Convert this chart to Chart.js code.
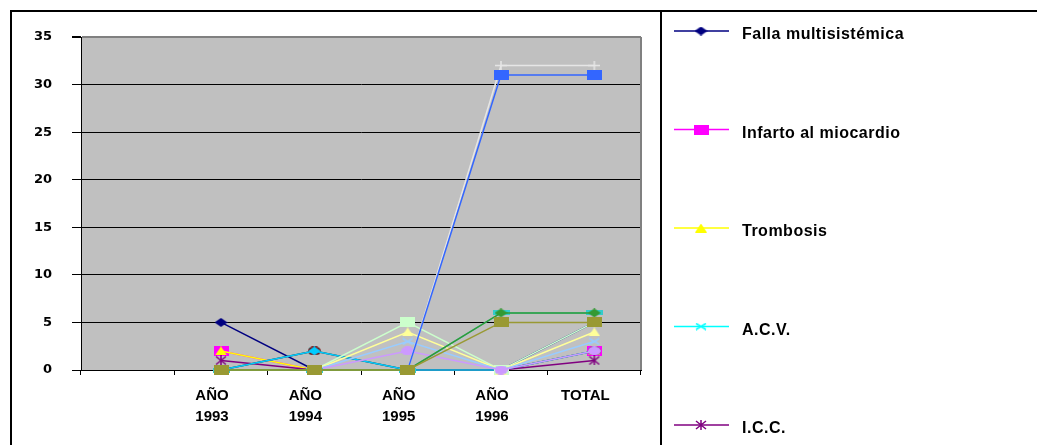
<!DOCTYPE html>
<html>
<head>
<meta charset="utf-8">
<script src="https://cdn.jsdelivr.net/npm/chart.js@4.4.1/dist/chart.umd.min.js"></script>
<style>
  html, body { margin: 0; padding: 0; background: #fff; }
  #wrap { width: 1037px; height: 445px; }
</style>
</head>
<body>
<div id="wrap"><canvas id="chart" width="1037" height="445"></canvas></div>
<script>
// categories (first slot is empty, as in the original sheet)
const categories = ['', ['AÑO', '1993'], ['AÑO', '1994'], ['AÑO', '1995'], ['AÑO', '1996'], 'TOTAL'];
const yTicks = [0, 5, 10, 15, 20, 25, 30, 35];

// series values
const fallaMulti = [null, 5, 0, 0, 0, 5];
const infarto    = [null, 2, 0, 0, 0, 2];
const trombosis  = [null, 2, 0, 0, 0, 2];
const acv        = [null, 0, 2, 0, 0, 2];
const icc        = [null, 1, 0, 0, 0, 1];
const serie6     = [null, 0, 2, 0, 0, 2];
const serie9     = [null, 0, 2, 0, 0, 2];
const serie11    = [null, 0, 0, 5, 0, 5];
const serie12    = [null, 0, 0, 4, 0, 4];
const serie13    = [null, 0, 0, 3, 0, 3];
const serie15    = [null, 0, 0, 2, 0, 2];
const serie21    = [null, 0, 0, 0, 32, 32];
const serie17    = [null, 0, 0, 0, 31, 31];
const serie18    = [null, 0, 0, 0, 6, 6];
const serie19    = [null, 0, 0, 0, 6, 6];
const serie20    = [null, 0, 0, 0, 5, 5];

// only the first five names fit in the legend box
const legendNames = ['Falla multisistémica', 'Infarto al miocardio', 'Trombosis', 'A.C.V.', 'I.C.C.'];

const seriesValues = [fallaMulti, infarto, trombosis, acv, icc, serie6, serie9, serie11,
                      serie12, serie13, serie15, serie21, serie17, serie18, serie19, serie20];
const seriesColors = ['#000080', '#FF00FF', '#FFFF00', '#00FFFF', '#800080', '#800000', '#00CCFF', '#CCFFCC',
                      '#FFFF99', '#99CCFF', '#CC99FF', '#E6E6E6', '#3366FF', '#33CCCC', '#339933', '#999933'];
const seriesMarkers = ['diamond', 'square', 'triangle', 'x', 'star', 'circle', 'diamond', 'square',
                       'triangle', 'x', 'circle', 'plus', 'square', 'dash', 'diamond', 'square'];

// Excel-like markers, a bit wider than tall
function makeMarker(style, color) {
    const dims = { diamond: [13, 9], square: [15, 10], triangle: [12, 9], x: [12, 8], star: [12, 10],
                   circle: [13, 9], plus: [12, 9], dash: [17, 5] };
    const [w, h] = dims[style];
    const c = document.createElement('canvas');
    c.width = w; c.height = h;
    const g = c.getContext('2d');
    g.fillStyle = color;
    g.strokeStyle = color;
    g.lineWidth = 1.5;
    g.beginPath();
    switch (style) {
        case 'diamond':
            g.moveTo(w / 2, 0); g.lineTo(w, h / 2); g.lineTo(w / 2, h); g.lineTo(0, h / 2); g.closePath(); g.fill();
            break;
        case 'square':
        case 'dash':
            g.fillRect(0, 0, w, h);
            break;
        case 'triangle':
            g.moveTo(w / 2, 0); g.lineTo(w, h); g.lineTo(0, h); g.closePath(); g.fill();
            break;
        case 'x':
            g.moveTo(1, 1); g.lineTo(w - 1, h - 1); g.moveTo(w - 1, 1); g.lineTo(1, h - 1); g.stroke();
            break;
        case 'star':
            g.moveTo(1, 1); g.lineTo(w - 1, h - 1); g.moveTo(w - 1, 1); g.lineTo(1, h - 1);
            g.moveTo(w / 2, 0); g.lineTo(w / 2, h); g.stroke();
            break;
        case 'circle':
            g.ellipse(w / 2, h / 2, w / 2, h / 2, 0, 0, Math.PI * 2); g.fill();
            break;
        case 'plus':
            g.moveTo(0, h / 2); g.lineTo(w, h / 2); g.moveTo(w / 2, 0); g.lineTo(w / 2, h); g.stroke();
            break;
    }
    return c;
}

const markers = seriesMarkers.map((m, i) => makeMarker(m, seriesColors[i]));

const datasets = seriesValues.map((vals, i) => ({
    label: legendNames[i] || '',
    data: vals,
    borderColor: seriesColors[i],
    backgroundColor: seriesColors[i],
    borderWidth: 1.5,
    pointStyle: markers[i],
    pointRadius: 5,
    tension: 0,
    clip: false,
    order: seriesValues.length - i // later series on top, like Excel
}));

// gray plot area, outer frame and the clipped legend box
const chartFrame = {
    id: 'chartFrame',
    beforeDraw(chart) {
        const { ctx, chartArea: a } = chart;
        ctx.save();
        ctx.fillStyle = '#fff';
        ctx.fillRect(0, 0, chart.width, chart.height);
        ctx.fillStyle = '#C0C0C0';
        ctx.fillRect(a.left, a.top, a.right - a.left, a.bottom - a.top);
        ctx.restore();
    },
    afterDraw(chart) {
        const { ctx, chartArea: a } = chart;
        ctx.save();
        ctx.strokeStyle = '#808080';
        ctx.lineWidth = 2;
        ctx.beginPath();
        ctx.moveTo(a.right, a.top);
        ctx.lineTo(a.right, a.bottom);
        ctx.stroke();

        ctx.strokeStyle = '#000';
        ctx.lineWidth = 2;
        ctx.beginPath();
        ctx.moveTo(11, chart.height); ctx.lineTo(11, 11); ctx.lineTo(chart.width, 11);
        ctx.moveTo(661, 11); ctx.lineTo(661, chart.height);
        ctx.stroke();

        ctx.font = 'bold 16px "Liberation Sans", Arial, sans-serif';
        ctx.letterSpacing = '0.5px';
        ctx.textBaseline = 'alphabetic';
        ctx.fillStyle = '#000';
        legendNames.forEach((name, i) => {
            const y = 31 + i * 98.5;
            ctx.strokeStyle = seriesColors[i];
            ctx.lineWidth = 1.5;
            ctx.beginPath();
            ctx.moveTo(674, y); ctx.lineTo(729, y);
            ctx.stroke();
            const m = markers[i];
            ctx.drawImage(m, 701 - m.width / 2, y - m.height / 2);
            ctx.fillText(name, 742, y + 8);
        });
        ctx.restore();
    }
};

new Chart(document.getElementById('chart'), {
    type: 'line',
    data: { labels: categories, datasets: datasets },
    plugins: [chartFrame],
    options: {
        responsive: false,
        animation: false,
        events: [],
        layout: { padding: { left: 10, top: 37, right: 396, bottom: 0 } },
        plugins: {
            legend: { display: false },
            tooltip: { enabled: false }
        },
        scales: {
            x: {
                offset: true,
                grid: { offset: true, drawOnChartArea: false, tickLength: 5, color: '#000', lineWidth: 1 },
                border: { color: '#000', width: 1 },
                ticks: {
                    color: '#000',
                    autoSkip: false,
                    maxRotation: 0,
                    padding: 11,
                    labelOffset: -9,
                    font: { family: '"Liberation Sans", Arial, sans-serif', size: 15, weight: 'bold', lineHeight: 1.35 }
                },
                afterFit: (s) => { s.height = 75; }
            },
            y: {
                min: 0,
                max: 35,
                afterBuildTicks: (s) => { s.ticks = yTicks.map(v => ({ value: v })); },
                grid: {
                    color: (c) => c.tick && c.tick.value === 35 ? '#808080' : '#000',
                    lineWidth: (c) => c.tick && c.tick.value === 35 ? 2 : 1,
                    tickColor: '#000',
                    tickLength: 9
                },
                border: { color: '#000', width: 1 },
                ticks: {
                    color: '#000',
                    padding: 20,
                    font: { family: '"DejaVu Sans", sans-serif', size: 13, weight: 'bold' }
                },
                afterFit: (s) => { s.width = 71; }
            }
        }
    }
});
</script>
</body>
</html>
